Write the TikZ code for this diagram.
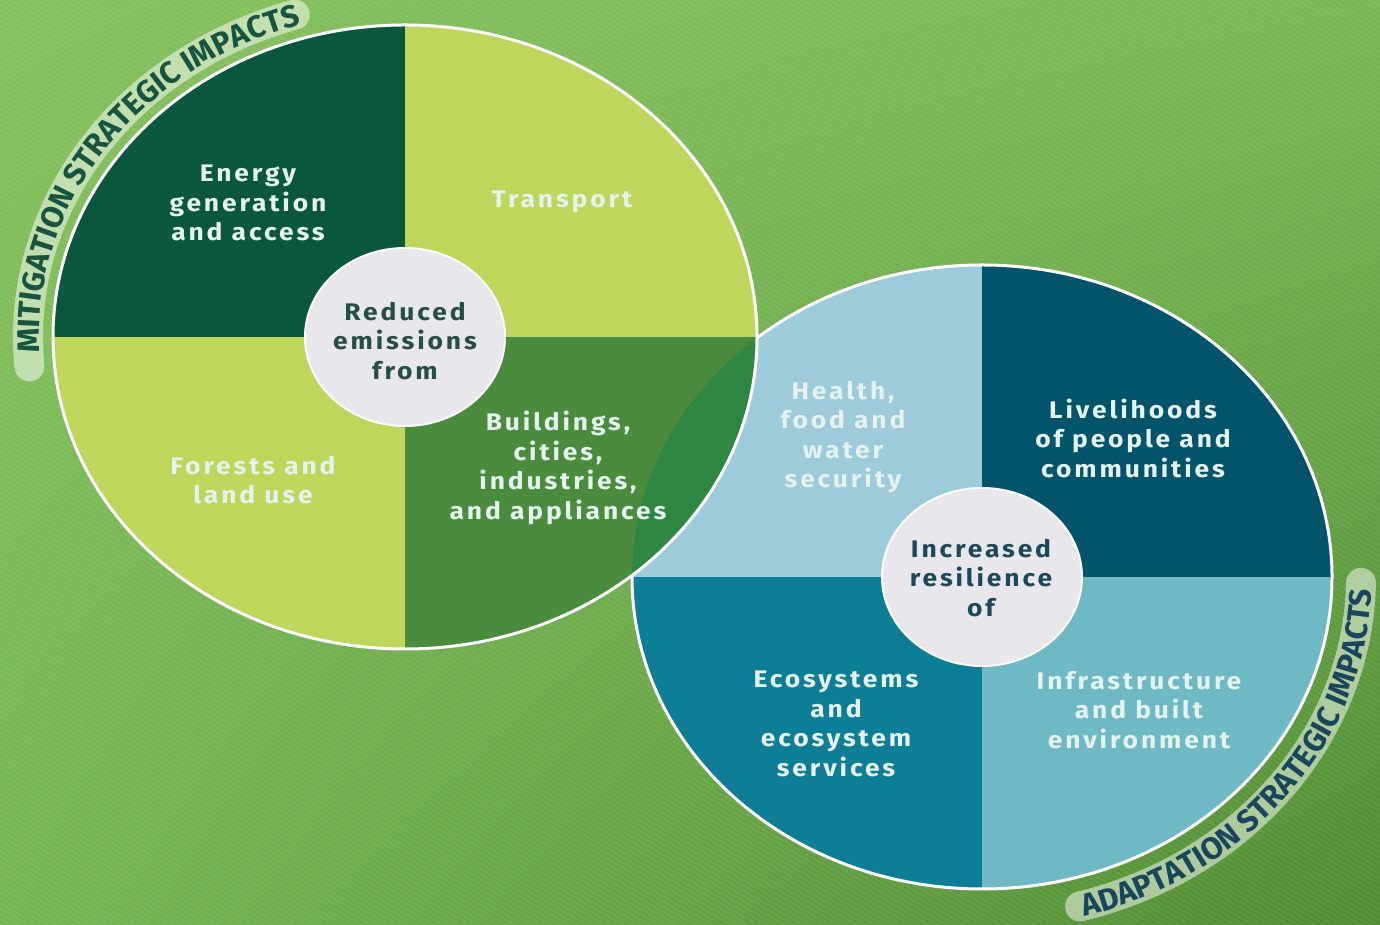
\documentclass[tikz,border=0pt]{standalone}
\usepackage{fontspec}
\setmainfont{Fira Sans}[FakeStretch=1.1, LetterSpace=12]
\newfontfamily\arcff{Fira Sans}
\usetikzlibrary{decorations.text,shadings}
\definecolor{bgA}{RGB}{132,192,92}
\definecolor{bgB}{RGB}{120,182,84}
\definecolor{bgC}{RGB}{116,180,82}
\definecolor{bgD}{RGB}{78,138,48}
\definecolor{Ltl}{RGB}{10,87,61}
\definecolor{Llt}{RGB}{190,214,92}
\definecolor{Lbr}{RGB}{74,139,62}
\definecolor{Lov}{RGB}{46,134,66}
\definecolor{cen}{RGB}{231,231,236}
\definecolor{Rtl}{RGB}{157,203,217}
\definecolor{Rtr}{RGB}{3,84,107}
\definecolor{Rbl}{RGB}{14,126,151}
\definecolor{Rbr}{RGB}{111,185,196}
\definecolor{txt}{RGB}{228,243,238}
\definecolor{mitc}{RGB}{24,84,64}
\definecolor{adac}{RGB}{26,70,92}
\definecolor{cenLt}{RGB}{38,78,66}
\definecolor{cenRt}{RGB}{30,72,88}
\newcommand{\arcfont}{\arcff\bfseries\fontsize{31}{31}\selectfont}
\tikzset{
  lab/.style={align=center, text=txt, font=\bfseries\fontsize{24}{29.5}\selectfont, inner sep=0pt},
  cenlab/.style={lab, text=#1},
  rim/.style={white, line width=3},
  halo/.style={white, opacity=0.5, line width=30, line cap=round}
}
\begin{document}
\begin{tikzpicture}[x=1pt,y=1pt]
\useasboundingbox (0,0) rectangle (1380,925);
% background
\shade[upper left=bgA, upper right=bgB, lower left=bgC, lower right=bgD] (0,0) rectangle (1380,925);
\begin{scope}
  \clip (0,0) rectangle (1380,925);
  \foreach \a in {-1700,-1691,...,1400}
    \draw[white, opacity=0.06, line width=3] (\a,925) -- ++(1700,-981);
\end{scope}

\coordinate (L) at (405,588);
\coordinate (R) at (982,348);

% halo bands behind the arc labels
\draw[halo] (L) ++(185:377 and 337) arc[start angle=185, end angle=107, x radius=377, y radius=337];
\draw[halo] (R) ++(-75:379 and 341) arc[start angle=-75, end angle=-1, x radius=379, y radius=341];

% right ellipse
\begin{scope}
  \clip (R) ellipse [x radius=350, y radius=312];
  \fill[Rtl] (R) rectangle ++(-360,320);
  \fill[Rtr] (R) rectangle ++(360,320);
  \fill[Rbl] (R) rectangle ++(-360,-320);
  \fill[Rbr] (R) rectangle ++(360,-320);
\end{scope}
\draw[rim] (R) ellipse [x radius=350, y radius=312];

% left ellipse
\begin{scope}
  \clip (L) ellipse [x radius=352, y radius=312];
  \fill[Ltl] (L) rectangle ++(-360,320);
  \fill[Llt] (L) rectangle ++(360,320);
  \fill[Llt] (L) rectangle ++(-360,-320);
  \fill[Lbr] (L) rectangle ++(360,-320);
  \clip (R) ellipse [x radius=350, y radius=312];
  \fill[Lov] (L) rectangle ++(360,-320);
\end{scope}
\draw[rim] (L) ellipse [x radius=352, y radius=312];

% centre discs
\fill[cen, draw=white!90!cen, line width=2] (L) ellipse [x radius=100, y radius=89];
\fill[cen, draw=white!90!cen, line width=2] (R) ellipse [x radius=100, y radius=89];

% quadrant labels
\node[lab] (energy) at (248,722) {Energy\\generation\\and access};
\node[lab] (transport) at (562,723) {Transport};
\node[lab] (forests) at (253,445) {Forests and\\land use};
\node[cenlab=cenLt] (reduced) at (405,584) {Reduced\\emissions\\from};
\node[lab] (buildings) at (558,457) {Buildings,\\cities,\\industries,\\and appliances};
\node[lab] (health) at (843,488) {Health,\\food and\\water\\security};
\node[lab] (livelihoods) at (1133,487) {Livelihoods\\of people and\\communities};
\node[cenlab=cenRt] (increased) at (981,347) {Increased\\resilience\\of};
\node[lab] (ecosystems) at (836,201) {Ecosystems\\and\\ecosystem\\services};
\node[lab] (infrastructure) at (1139,215) {Infrastructure\\and built\\environment};

% arc labels
\path[decorate, decoration={text along path, text align=center,
    text={|\arcfont\color{mitc}|MITIGATION STRATEGIC IMPACTS}}]
  (L) ++(190:366 and 326) arc[start angle=190, end angle=100, x radius=366, y radius=326];
\path[decorate, decoration={text along path, text align=center,
    text={|\arcfont\color{adac}|ADAPTATION STRATEGIC IMPACTS}}]
  (R) ++(-83:390 and 352) arc[start angle=-83, end angle=7, x radius=390, y radius=352];
\end{tikzpicture}
\end{document}
